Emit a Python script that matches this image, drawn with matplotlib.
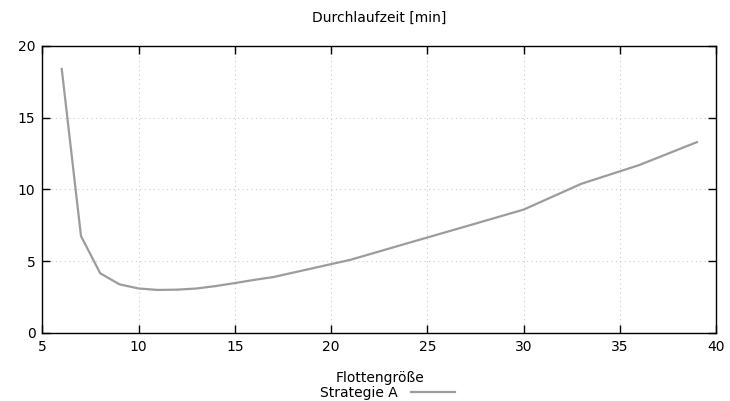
import matplotlib.pyplot as plt

# Flottengröße vs. Durchlaufzeit
fleet_size = [6, 7, 8, 9, 10, 11, 12, 13, 14, 15, 16, 17, 18, 19, 20, 21,
              24, 27, 30, 33, 36, 39]
lead_time = [18.4, 6.76, 4.16, 3.39, 3.1, 3.0, 3.02, 3.1, 3.27, 3.48, 3.7, 3.9,
             4.2, 4.5, 4.8, 5.1, 6.27, 7.43, 8.6, 10.4, 11.7, 13.3]
x_ticks = [5, 10, 15, 20, 25, 30, 35, 40]
y_ticks = [0, 5, 10, 15, 20]

fig = plt.figure(figsize=(7.3, 4.01), dpi=100)
ax = fig.add_axes([0.0582, 0.1696, 0.9228, 0.7157])

line, = ax.plot(fleet_size, lead_time, color='#9c9c9c', linewidth=1.6,
                label='Strategie A')

ax.set_xlim(5, 40)
ax.set_ylim(0, 20)
ax.set_xticks(x_ticks)
ax.set_yticks(y_ticks)
ax.grid(True, color='#cccccc', linestyle=(0, (1, 3)), linewidth=0.8)
ax.tick_params(direction='in', length=6, width=1, top=True, right=True,
               labelsize=10, pad=5)
for sp in ax.spines.values():
    sp.set_linewidth(1)

fig.text(0.52, 0.955, 'Durchlaufzeit [min]', ha='center', va='center', fontsize=10)
fig.text(0.52, 0.058, 'Flottengröße', ha='center', va='center', fontsize=10)

fig.legend(handles=[line], loc='center', bbox_to_anchor=(0.531, 0.02),
           frameon=False, markerfirst=False, fontsize=10, handlelength=3.2,
           handletextpad=0.9, borderpad=0, borderaxespad=0)

fig.savefig('out.png', dpi=100)
plt.close(fig)
